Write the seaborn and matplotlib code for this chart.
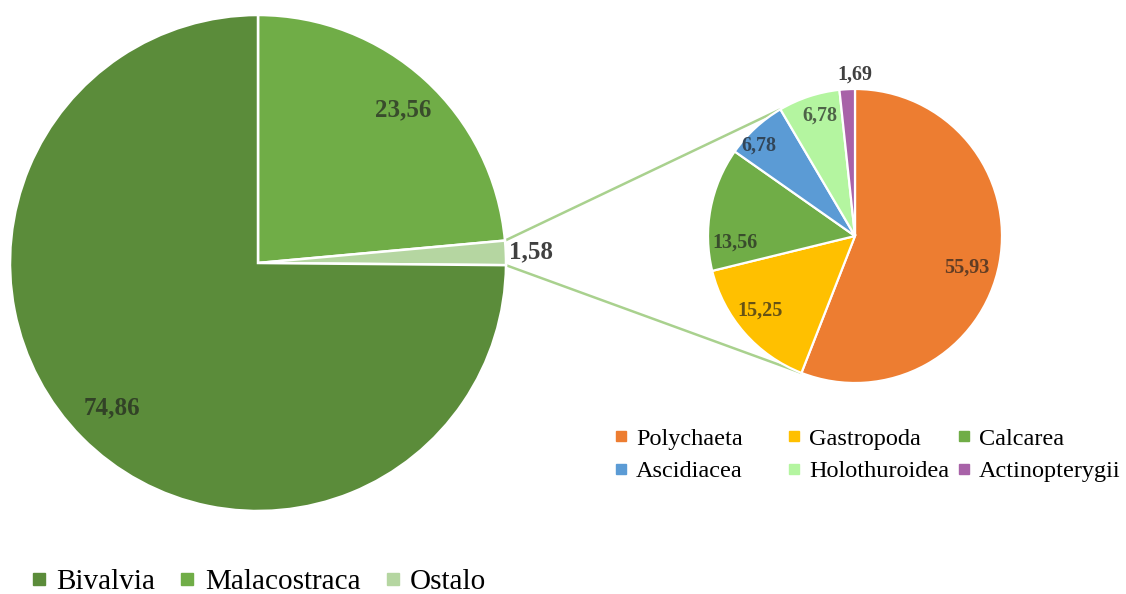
import numpy as np
import matplotlib.pyplot as plt
import seaborn as sns
from matplotlib.lines import Line2D
from matplotlib.colors import to_rgb

# main pie
main_labels = ['Bivalvia', 'Malacostraca', 'Ostalo']
main_values = [74.86, 23.56, 1.58]
main_colors = ['#5B8C3A', '#70AD47', '#B5D6A1']

# breakdown of "Ostalo"
sub_labels = ['Polychaeta', 'Gastropoda', 'Calcarea',
              'Ascidiacea', 'Holothuroidea', 'Actinopterygii']
sub_values = [55.93, 15.25, 13.56, 6.78, 6.78, 1.69]
sub_colors = ['#ED7D31', '#FFC000', '#70AD47', '#5B9BD5', '#B4F5A0', '#A862A8']

sns.set_theme(style='white')
plt.rcParams['font.family'] = ['Liberation Serif', 'DejaVu Serif']

W, H = 1126, 594
fig = plt.figure(figsize=(W / 100, H / 100), dpi=100)
ax = fig.add_axes([0, 0, 1, 1])


def label_color(c, outside=False):
    # data labels look like dark grey tinted by the slice colour
    if outside:
        return '#404040'
    return tuple(np.array(to_rgb(c)) * 0.32 + 0.12 * 0.68)


def draw_labels(wedges, values, colors, center, radius, dists, shifts, size):
    for w, v, c, d, s in zip(wedges, values, colors, dists, shifts):
        ang = np.deg2rad((w.theta1 + w.theta2) / 2 + s)
        x = center[0] + d * radius * np.cos(ang)
        y = center[1] + d * radius * np.sin(ang)
        ax.text(x, y, f'{v:.2f}'.replace('.', ','), ha='center', va='center',
                fontsize=size, fontweight='bold', color=label_color(c, d > 1))


# big pie: clockwise from top -> Malacostraca, Ostalo, Bivalvia
big_c, big_r = (258, H - 263), 248
order = [1, 2, 0]
w_big, _ = ax.pie([main_values[i] for i in order],
                  colors=[main_colors[i] for i in order],
                  center=big_c, radius=big_r, startangle=90, counterclock=False,
                  frame=True, wedgeprops=dict(edgecolor='white', linewidth=1.8))
draw_labels(w_big, [main_values[i] for i in order], [main_colors[i] for i in order],
            big_c, big_r, [0.85, 1.1, 0.83], [-1, 0, 0], 18)

# small pie
sub_c, sub_r = (855, H - 236), 147
w_sub, _ = ax.pie(sub_values, colors=sub_colors, center=sub_c, radius=sub_r,
                  startangle=90, counterclock=False, frame=True,
                  wedgeprops=dict(edgecolor='white', linewidth=1.6))
draw_labels(w_sub, sub_values, sub_colors, sub_c, sub_r,
            [0.79, 0.82, 0.82, 0.9, 0.85, 1.1], [-5, -3, 14, 4, -2, -3], 14.5)

# connector lines
ost = w_big[1]
for a_big, a_sub in [(ost.theta2, w_sub[4].theta2), (ost.theta1, w_sub[0].theta1)]:
    p0 = (big_c[0] + big_r * np.cos(np.deg2rad(a_big)), big_c[1] + big_r * np.sin(np.deg2rad(a_big)))
    p1 = (sub_c[0] + sub_r * np.cos(np.deg2rad(a_sub)), sub_c[1] + sub_r * np.sin(np.deg2rad(a_sub)))
    ax.plot([p0[0], p1[0]], [p0[1], p1[1]], color='#A9D18E', lw=1.8, zorder=0)

ax.set_xlim(0, W)
ax.set_ylim(0, H)
ax.set_aspect('equal')
ax.axis('off')

# legends (each added as a plain artist so none is drawn twice)
legends = []
big_handles = [Line2D([], [], marker='s', ls='', color=c, markersize=8.5) for c in main_colors]
legends.append(ax.legend(big_handles, main_labels, loc='center left', ncol=3,
                         bbox_to_anchor=(30 / W, 1 - 582 / H), frameon=False, fontsize=21,
                         handlelength=0.6, handletextpad=0.3, columnspacing=0.8,
                         borderpad=0, borderaxespad=0, labelcolor='black'))

col_x = [614, 787, 957]
for k, x in enumerate(col_x):
    idx = [k, k + 3]
    hs = [Line2D([], [], marker='s', ls='', color=sub_colors[i], markersize=6.5) for i in idx]
    legends.append(ax.legend(hs, [sub_labels[i] for i in idx], loc='center left',
                             bbox_to_anchor=(x / W, 1 - 455 / H), frameon=False, fontsize=17.5,
                             handlelength=0.6, handletextpad=0.3, labelspacing=0.45,
                             borderpad=0, borderaxespad=0, labelcolor='black'))
ax.legend_ = None
for lg in legends:
    ax.add_artist(lg)

fig.savefig('out.png', dpi=100, facecolor='white')
